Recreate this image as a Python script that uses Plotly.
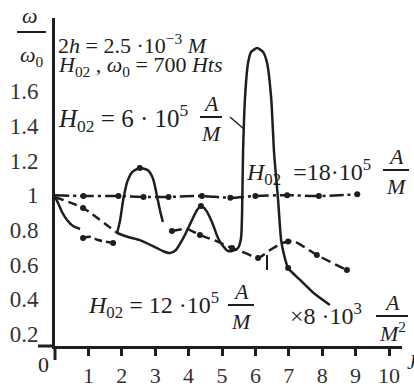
import plotly.graph_objects as go

# ---------------- data ----------------
# H02 = 18e5 A/M : dash-dot, nearly flat
x_18 = [0, 0.85, 1.9, 2.65, 3.4, 4.4, 5.25, 6.0, 6.95, 7.9, 9.05]
y_18 = [1.0, 0.995, 0.995, 0.99, 0.99, 0.995, 0.985, 0.995, 1.0, 0.995, 1.005]

# steep initial drop (solid)
x_drop = [0, 0.09, 0.21, 0.36, 0.54, 0.75]
y_drop = [0.989, 0.955, 0.903, 0.857, 0.822, 0.805]

# short flat dashed piece
x_flat = [0.84, 1.05, 1.29, 1.74]
y_flat = [0.753, 0.76, 0.741, 0.724]

# diagonal dashed piece from the start
x_diag = [0, 0.84, 1.86]
y_diag = [0.989, 0.926, 0.782]

# first bump (solid)
x_bump1 = [1.86, 1.95, 2.04, 2.16, 2.31, 2.54, 2.78, 2.93, 3.05, 3.14, 3.23]
y_bump1 = [0.782, 0.856, 0.971, 1.075, 1.133, 1.156, 1.144, 1.098, 1.0, 0.914, 0.845]

# H02 = 12e5 A/M : dashed with dots
x_12 = [3.5, 3.95, 4.34, 4.82, 5.3, 5.69, 6.08, 6.44, 6.8, 7.13, 7.84, 8.74]
y_12 = [0.793, 0.805, 0.770, 0.736, 0.695, 0.667, 0.638, 0.684, 0.724, 0.736, 0.655, 0.568]
x_12_dots = [3.5, 4.34, 5.3, 6.08, 6.98, 7.84, 8.74]
y_12_dots = [0.793, 0.770, 0.695, 0.638, 0.733, 0.655, 0.568]

# H02 = 6e5 A/M : solid, second bump and big resonance peak
x_6 = [1.86, 2.19, 2.54, 2.99, 3.23, 3.44, 3.62, 3.86, 4.1, 4.25, 4.37, 4.52, 4.7,
       4.88, 5.03, 5.18, 5.3, 5.48, 5.57, 5.6, 5.63, 5.69, 5.78, 5.87, 6.05, 6.23,
       6.35, 6.47, 6.56, 6.68, 6.77, 6.86, 6.98, 7.34, 7.78, 8.23]
y_6 = [0.782, 0.759, 0.741, 0.701, 0.678, 0.666, 0.684, 0.759, 0.856, 0.913, 0.937,
       0.913, 0.845, 0.753, 0.707, 0.678, 0.678, 0.695, 0.753, 0.886, 1.243, 1.566,
       1.762, 1.825, 1.848, 1.825, 1.762, 1.566, 1.243, 0.971, 0.741, 0.654, 0.580,
       0.511, 0.430, 0.367]
x_misc_dots = [0.84, 0.84, 1.74, 2.54, 4.37, 6.98]
y_misc_dots = [0.926, 0.753, 0.724, 1.156, 0.937, 0.580]

x_ticks = [1, 2, 3, 4, 5, 6, 7, 8, 9, 10]
y_ticks = [0.2, 0.4, 0.6, 0.8, 1.0, 1.2, 1.4, 1.6]
y_tick_text = ["0.2", "0.4", "0.6", "0.8", "1", "1.2", "1.4", "1.6"]

# ---------------- figure ----------------
W, H = 414, 390
L, R, T, B = 55, 12, 18, 44
PW, PH = W - L - R, H - T - B
INK = "#1e1e1e"
FONT = "Liberation Serif"


def px(x):
    return (x - L) / PW


def py(y):
    return (H - B - y) / PH


fig = go.Figure()

def line(x, y, dash, width=2.5):
    fig.add_trace(go.Scatter(x=x, y=y, mode="lines",
                             line=dict(color=INK, width=width, dash=dash, shape="spline", smoothing=0.6),
                             hoverinfo="skip"))

def dots(x, y, size=6):
    fig.add_trace(go.Scatter(x=x, y=y, mode="markers",
                             marker=dict(color=INK, size=size), hoverinfo="skip"))

line(x_18, y_18, "14px,4px,3px,4px")
dots(x_18[1:], y_18[1:])
line(x_drop, y_drop, "solid")
line(x_flat, y_flat, "8px,4px")
line(x_diag, y_diag, "9px,5px")
line(x_bump1, y_bump1, "solid")
line(x_12, y_12, "10px,5px")
dots(x_12_dots, y_12_dots)
line(x_6, y_6, "solid")
dots(x_misc_dots, y_misc_dots)

ann = []

def text(t, x, y, size=22, xanchor="left", yanchor="middle"):
    ann.append(dict(text=t, x=px(x), y=py(y), xref="paper", yref="paper",
                    xanchor=xanchor, yanchor=yanchor, showarrow=False,
                    font=dict(family=FONT, size=size, color=INK)))

shapes = []

def seg(x0, y0, x1, y1, w=2, color=INK):
    shapes.append(dict(type="line", xref="paper", yref="paper", layer="above",
                       x0=px(x0), y0=py(y0), x1=px(x1), y1=py(y1),
                       line=dict(color=color, width=w)))

def frac(cx, ybar, half, top="<i>A</i>", bot="<i>M</i>", size=22):
    text(top, cx, ybar - 14, size=size, xanchor="center")
    text(bot, cx, ybar + 16, size=size, xanchor="center")
    seg(cx - half, ybar, cx + half, ybar, 2)

# y-axis title  omega / omega0
text("<i>ω</i>", 30, 16, size=22, xanchor="center")
seg(17, 32, 46, 32, 2)
text("<i>ω</i><sub>0</sub>", 32, 56, size=22, xanchor="center")

text("2<i>h</i> = 2.5 ·10<sup>−3</sup> <i>M</i>", 56, 44)
text("<i>H</i><sub>02</sub> , <i>ω</i><sub>0</sub> = 700 <i>Hts</i>", 56, 66)
text("<i>H</i><sub>02</sub> = 6 · 10<sup>5</sup>", 56, 118, size=25)
frac(211, 117, 11)
seg(230, 117, 244, 129, 1.5)

text("<i>H</i><sub>02</sub>  =18·10<sup>5</sup>", 244, 172, size=24)
frac(396, 170, 13)

text("<i>H</i><sub>02</sub> = 12 ·10<sup>5</sup>", 86, 305, size=24)
frac(241, 305, 13)

text("×8 ·10<sup>3</sup>", 288, 314, size=24)
frac(392, 316, 16, bot="<i>M</i><sup>2</sup>")

text("0", 43, 364, size=22, xanchor="center")
text("<i>J</i>", 405, 362, size=20)

# axis overhangs
seg(38, H - B, L, H - B, 3)
seg(L, H - B, L, 360, 3)
# small leader tick near the curves
seg(267, 255, 267, 270, 2)

fig.update_layout(
    width=W, height=H,
    margin=dict(l=L, r=R, t=T, b=B, pad=0, autoexpand=False),
    paper_bgcolor="white", plot_bgcolor="white",
    showlegend=False,
    annotations=ann, shapes=shapes,
    xaxis=dict(range=[0, PW / 33.4], showgrid=False, zeroline=False, automargin=False,
               showline=True, linecolor=INK, linewidth=3,
               tickmode="array", tickvals=x_ticks, ticktext=[str(v) for v in x_ticks],
               ticks="outside", ticklen=7, tickwidth=2.5, tickcolor=INK,
               ticklabelstandoff=1,
               tickfont=dict(family=FONT, size=22, color="#333")),
    yaxis=dict(range=[(368.6 - (H - B)) / 173.45, (368.6 - T) / 173.45],
               showgrid=False, zeroline=False, automargin=False,
               showline=True, linecolor=INK, linewidth=3,
               tickmode="array", tickvals=y_ticks, ticktext=y_tick_text,
               ticks="", ticklabelstandoff=9,
               tickfont=dict(family=FONT, size=23, color="#333")),
)

fig.write_html("out.html", config={"displayModeBar": False},
               post_script="document.body.style.margin='0px';")
